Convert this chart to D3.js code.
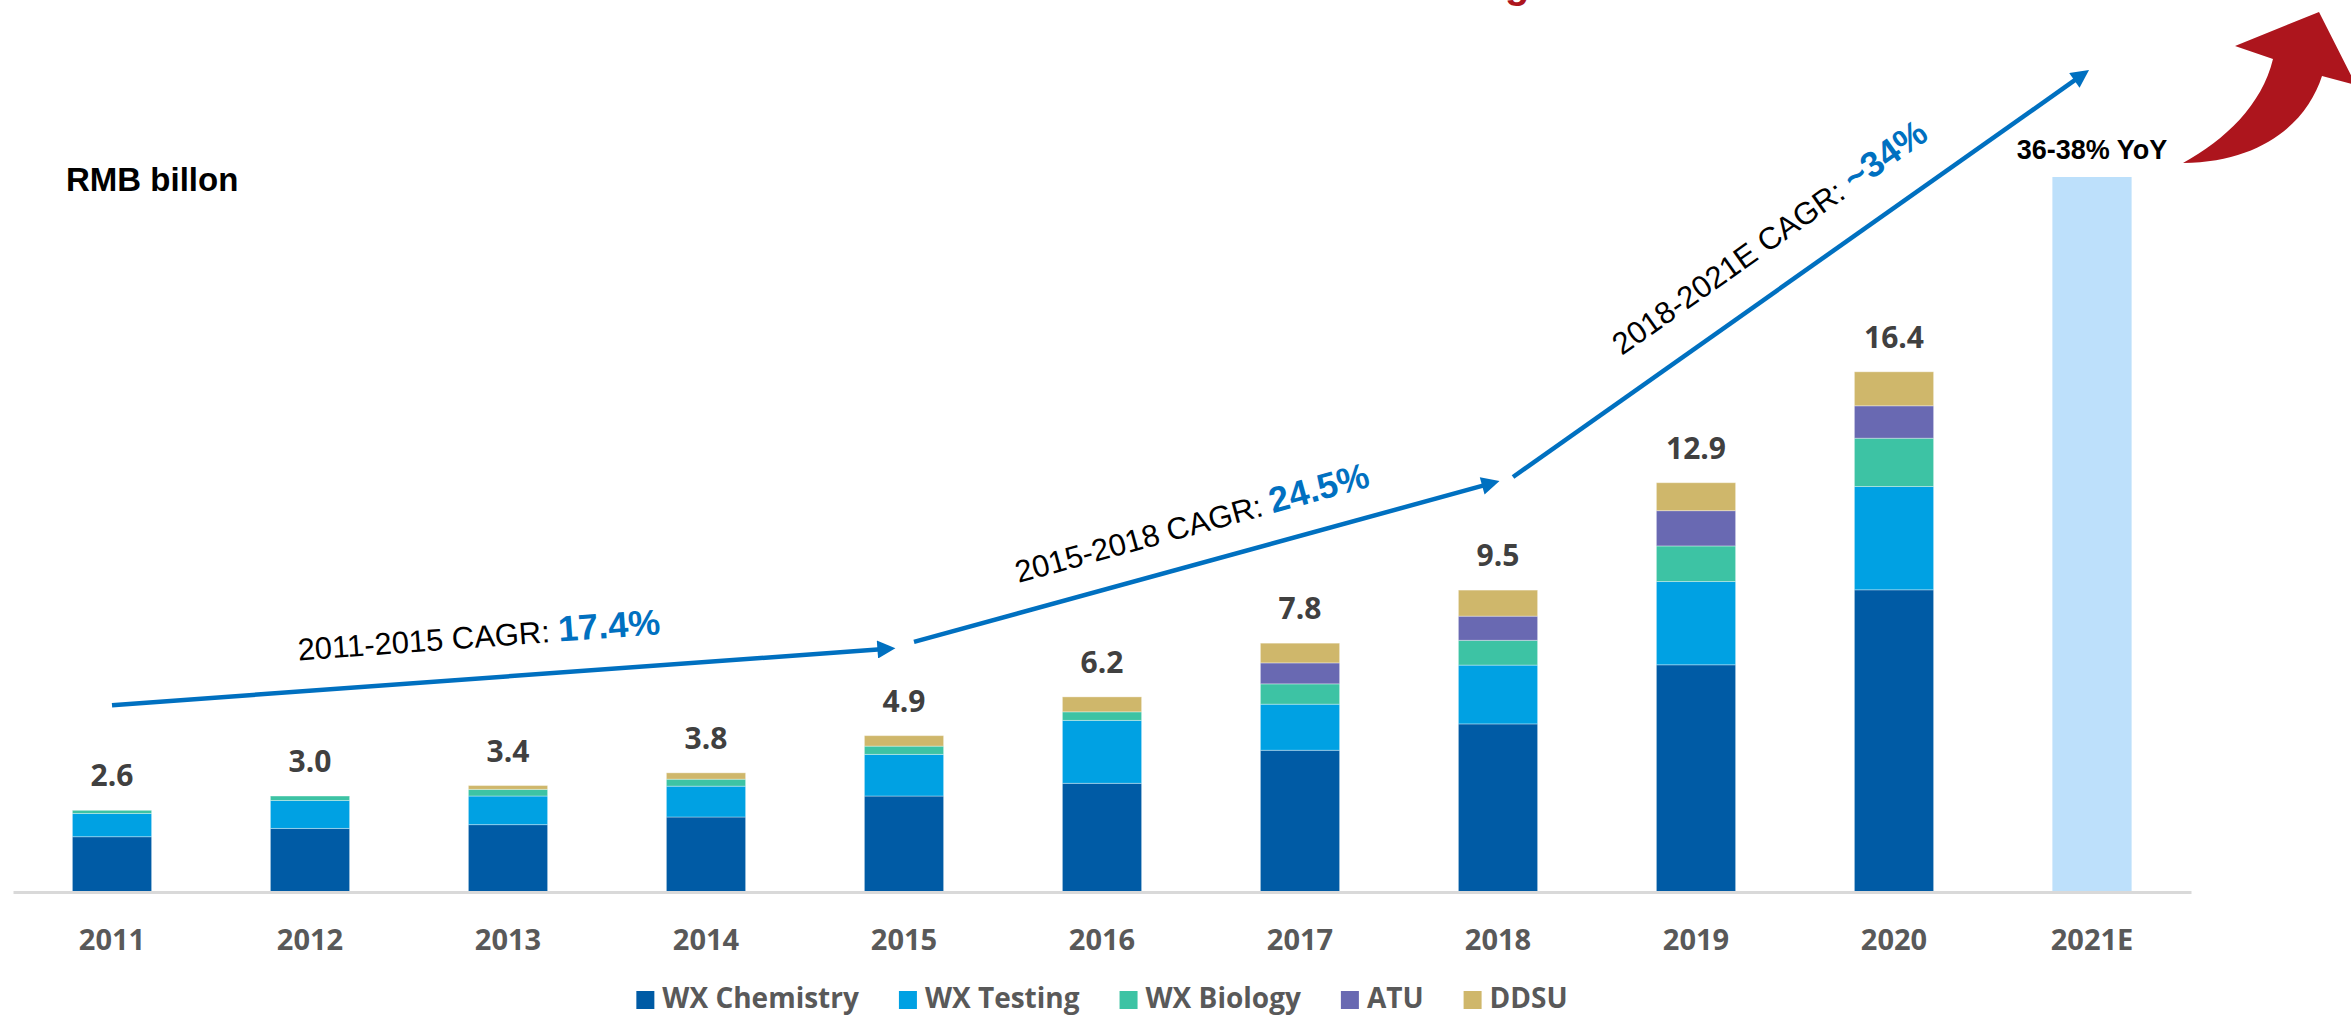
<!DOCTYPE html>
<html>
<head>
<meta charset="utf-8">
<script src="https://cdn.jsdelivr.net/npm/d3@7"></script>
<style>
  html, body { margin: 0; padding: 0; background: #fff; }
  svg { display: block; }
</style>
</head>
<body>
<div id="chart"></div>
<script>
// Revenue by segment, RMB billion
const years = ['2011', '2012', '2013', '2014', '2015', '2016', '2017', '2018', '2019', '2020', '2021E'];
const wxChemistry = [1.74, 2.00, 2.12, 2.36, 3.02, 3.42, 4.46, 5.29, 7.15, 9.51, 0];
const wxTesting   = [0.73, 0.88, 0.90, 0.97, 1.31, 1.98, 1.45, 1.85, 2.62, 3.25, 0];
const wxBiology   = [0.10, 0.14, 0.21, 0.22, 0.26, 0.27, 0.64, 0.78, 1.12, 1.52, 0];
const atu         = [0, 0, 0, 0, 0, 0, 0.66, 0.76, 1.11, 1.02, 0];
const ddsu        = [0, 0, 0.12, 0.20, 0.33, 0.47, 0.62, 0.82, 0.88, 1.07, 0];
const totalLabels = ['2.6', '3.0', '3.4', '3.8', '4.9', '6.2', '7.8', '9.5', '12.9', '16.4', null];
const estimate2021 = 22.5;   // 16.4 * ~1.37
const estimateLabel = '36-38% YoY';

const seriesNames = ['WX Chemistry', 'WX Testing', 'WX Biology', 'ATU', 'DDSU'];
const seriesValues = [wxChemistry, wxTesting, wxBiology, atu, ddsu];
const seriesColors = ['#005BA5', '#00A1E3', '#3DC3A4', '#6969B2', '#CFB76B'];

// CAGR arrows: endpoints as (year, value)
const cagrArrows = [
  { from: ['2011', 5.88], to: ['2015', 7.68], label: '2011-2015 CAGR: ', pct: '17.4%' },
  { from: ['2015', 7.87], to: ['2018', 12.96], label: '2015-2018 CAGR: ', pct: '24.5%' },
  { from: ['2018', 13.06], to: ['2021E', 25.93], label: '2018-2021E CAGR: ', pct: '~34%' }
];

const width = 2351, height = 1015;
const baseY = 892;

const svg = d3.select('#chart').append('svg')
  .attr('width', width)
  .attr('height', height);

const x = d3.scaleBand()
  .domain(years)
  .range([13, 2191])
  .paddingInner(0.6)
  .paddingOuter(0.3);

const y = d3.scaleLinear()
  .domain([0, estimate2021])
  .range([baseY, 177]);

const rows = years.map((yr, i) => {
  const r = { year: yr };
  seriesNames.forEach((s, k) => { r[s] = seriesValues[k][i]; });
  return r;
});
const stacked = d3.stack().keys(seriesNames)(rows);

// estimate bar
svg.append('rect')
  .attr('x', x('2021E'))
  .attr('width', x.bandwidth())
  .attr('y', y(estimate2021))
  .attr('height', y(0) - y(estimate2021))
  .attr('fill', '#BDE0FB');

stacked.forEach((layer, k) => {
  svg.append('g')
    .selectAll('rect')
    .data(layer.filter(d => d[1] - d[0] > 0))
    .join('rect')
    .attr('x', d => x(d.data.year))
    .attr('width', x.bandwidth())
    .attr('y', d => y(d[1]))
    .attr('height', d => y(d[0]) - y(d[1]))
    .attr('fill', seriesColors[k])
    .attr('stroke', 'rgba(255,255,255,0.35)')
    .attr('stroke-width', 1);
});

// axis
const xAxis = svg.append('g')
  .attr('transform', `translate(0,${baseY})`)
  .call(d3.axisBottom(x).tickSize(0));
xAxis.select('.domain')
  .attr('stroke', '#D9D9D9')
  .attr('stroke-width', 3);
xAxis.selectAll('text')
  .attr('y', 58)
  .attr('dy', null)
  .attr('fill', '#595959')
  .style('font-family', '"Open Sans", sans-serif')
  .style('font-weight', 700)
  .style('font-size', '29px');

// totals
svg.append('g')
  .selectAll('text')
  .data(years.map((yr, i) => ({ yr, i })).filter(d => totalLabels[d.i]))
  .join('text')
  .attr('x', d => x(d.yr) + x.bandwidth() / 2)
  .attr('y', d => y(d3.sum(seriesValues, s => s[d.i])) - 24)
  .attr('text-anchor', 'middle')
  .attr('fill', '#404040')
  .style('font-family', '"Open Sans", sans-serif')
  .style('font-weight', 700)
  .style('font-size', '30px')
  .text(d => totalLabels[d.i]);

svg.append('text')
  .attr('x', x('2021E') + x.bandwidth() / 2)
  .attr('y', y(estimate2021) - 18)
  .attr('text-anchor', 'middle')
  .attr('fill', '#000')
  .style('font-family', '"Liberation Sans", Arial, sans-serif')
  .style('font-weight', 700)
  .style('font-size', '27px')
  .text(estimateLabel);

svg.append('text')
  .attr('x', 66)
  .attr('y', 191)
  .attr('fill', '#000')
  .style('font-family', '"Liberation Sans", Arial, sans-serif')
  .style('font-weight', 700)
  .style('font-size', '33px')
  .text('RMB billon');

// cut-off title, only the descender shows (as in the source)
svg.append('text')
  .attr('x', 1505)
  .attr('y', -2)
  .attr('fill', '#AD151D')
  .style('font-family', '"Liberation Sans", Arial, sans-serif')
  .style('font-weight', 700)
  .style('font-size', '40px')
  .text('g');

// blue CAGR arrows
svg.append('defs').append('marker')
  .attr('id', 'head')
  .attr('viewBox', '0 0 10 10')
  .attr('refX', 2)
  .attr('refY', 5)
  .attr('markerUnits', 'userSpaceOnUse')
  .attr('markerWidth', 22)
  .attr('markerHeight', 18)
  .attr('orient', 'auto')
  .append('path')
  .attr('d', 'M0,0 L10,5 L0,10 Z')
  .attr('fill', '#0070C0');

const arrowX = [[0, -5], [10, 5], [15, 0]];
const labelPos = [[0.47, 31], [0.49, 29], [0.49, 36]];

cagrArrows.forEach((a, i) => {
  const x1 = x(a.from[0]) + x.bandwidth() / 2 + arrowX[i][0];
  const y1 = y(a.from[1]);
  const x2 = x(a.to[0]) + x.bandwidth() / 2 + arrowX[i][1];
  const y2 = y(a.to[1]);
  const ang = Math.atan2(y2 - y1, x2 - x1);
  // shorten so the head tip lands on the end point
  const ex = x2 - Math.cos(ang) * 18, ey = y2 - Math.sin(ang) * 18;

  svg.append('line')
    .attr('x1', x1).attr('y1', y1)
    .attr('x2', ex).attr('y2', ey)
    .attr('stroke', '#0070C0')
    .attr('stroke-width', 4.5)
    .attr('marker-end', 'url(#head)');

  const [t, off] = labelPos[i];
  const cx = x1 + (x2 - x1) * t + Math.sin(ang) * off;
  const cy = y1 + (y2 - y1) * t - Math.cos(ang) * off;
  const deg = ang * 180 / Math.PI;

  const txt = svg.append('text')
    .attr('transform', `translate(${cx},${cy}) rotate(${deg})`)
    .attr('text-anchor', 'middle')
    .style('font-family', '"Liberation Sans", Arial, sans-serif');
  txt.append('tspan')
    .attr('fill', '#000')
    .style('font-size', '31px')
    .text(a.label);
  txt.append('tspan')
    .attr('fill', '#0070C0')
    .style('font-weight', 700)
    .style('font-size', '36px')
    .text(a.pct);
});

// red growth arrow, top right
svg.append('path')
  .attr('d', 'M2183,163 C2225,140 2262,105 2273,59 L2235,46 L2319,12 L2356,85 L2322,76 C2308,120 2265,162 2183,163 Z')
  .attr('fill', '#AD151D');

// legend
const legend = svg.append('g');
let lx = 0;
seriesNames.forEach((name, k) => {
  const g = legend.append('g');
  g.append('rect')
    .attr('width', 18).attr('height', 18)
    .attr('fill', seriesColors[k]);
  const t = g.append('text')
    .attr('x', 26)
    .attr('y', 17)
    .attr('fill', '#595959')
    .style('font-family', '"Open Sans", sans-serif')
    .style('font-weight', 700)
    .style('font-size', '28px')
    .text(name);
  const w = 26 + t.node().getComputedTextLength();
  g.attr('transform', `translate(${lx},0)`);
  lx += w + 40;
});
const legendW = lx - 40;
const mid = (x.range()[0] + x.range()[1]) / 2;
legend.attr('transform', `translate(${mid - legendW / 2},991)`);
</script>
</body>
</html>
